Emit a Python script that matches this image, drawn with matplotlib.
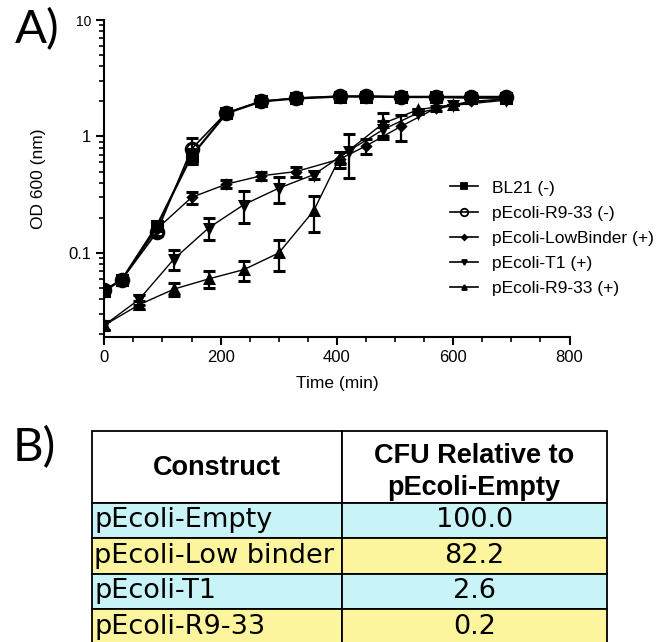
import numpy as np
import matplotlib
matplotlib.use("Agg")
import matplotlib.pyplot as plt
from matplotlib.lines import Line2D
from matplotlib.ticker import LogLocator, NullFormatter, FixedLocator, MultipleLocator

plt.rcParams["font.family"] = ["Liberation Sans", "DejaVu Sans"]

# Growth curves, OD600 vs time (min)
t_bl21 = [0, 30, 90, 150, 210, 270, 330, 405, 450, 510, 570, 630, 690]
od_bl21 = [0.047, 0.059, 0.17, 0.68, 1.58, 2.0, 2.12, 2.2, 2.2, 2.18, 2.18, 2.15, 2.15]
err_bl21 = [0, 0, 0.015, 0.1, 0.05, 0, 0, 0, 0, 0, 0, 0, 0]

t_r933m = [0, 30, 90, 150, 210, 270, 330, 405, 450, 510, 570, 630, 690]
od_r933m = [0.048, 0.059, 0.15, 0.78, 1.6, 2.0, 2.14, 2.22, 2.22, 2.2, 2.2, 2.2, 2.2]
err_r933m = [0, 0, 0.01, 0.2, 0.05, 0, 0, 0, 0, 0, 0, 0, 0]

t_low = [0, 30, 90, 150, 210, 270, 330, 405, 450, 510, 570, 630, 690]
od_low = [0.048, 0.059, 0.16, 0.30, 0.39, 0.46, 0.50, 0.64, 0.83, 1.22, 1.75, 2.0, 2.1]
err_low = [0, 0, 0, 0.035, 0.03, 0.04, 0.05, 0.1, 0.12, 0.3, 0.08, 0.05, 0]

t_t1 = [0, 60, 120, 180, 240, 300, 360, 420, 480, 540, 600, 690]
od_t1 = [0.024, 0.040, 0.089, 0.165, 0.26, 0.36, 0.47, 0.75, 1.15, 1.6, 1.85, 2.05]
err_t1 = [0.002, 0.004, 0.017, 0.035, 0.08, 0.09, 0.04, 0.31, 0.2, 0, 0, 0]

t_r933p = [0, 60, 120, 180, 240, 300, 360, 405, 480, 540, 600, 690]
od_r933p = [0.024, 0.036, 0.049, 0.060, 0.072, 0.10, 0.23, 0.66, 1.3, 1.7, 1.88, 2.1]
err_r933p = [0.002, 0.003, 0.006, 0.01, 0.014, 0.03, 0.08, 0.08, 0.3, 0, 0, 0]

# Table B
table_header = ["Construct", "CFU Relative to\npEcoli-Empty"]
constructs = ["pEcoli-Empty", "pEcoli-Low binder", "pEcoli-T1", "pEcoli-R9-33"]
cfu_rel = ["100.0", "82.2", "2.6", "0.2"]
row_colors = ["#c8f3f7", "#fcf59e", "#c8f3f7", "#fcf59e"]

fig = plt.figure(figsize=(6.72, 6.42), dpi=100)

# ---- panel A ----
ax = fig.add_axes([104.3 / 672, 1 - 337 / 642, 465.2 / 672, 317 / 642])

series = [
    (t_bl21, od_bl21, err_bl21, "s", "black", 7.5, "BL21 (-)", 1.6),
    (t_r933m, od_r933m, err_r933m, "o", "none", 9, "pEcoli-R9-33 (-)", 1.2),
    (t_low, od_low, err_low, "D", "black", 4.5, "pEcoli-LowBinder (+)", 1.0),
    (t_t1, od_t1, err_t1, "v", "black", 6, "pEcoli-T1 (+)", 1.0),
    (t_r933p, od_r933p, err_r933p, "^", "black", 6, "pEcoli-R9-33 (+)", 1.0),
]
handles = []
for t, y, e, mk, fc, ms, lab, lw in series:
    ax.errorbar(t, y, yerr=e, fmt="-", marker=mk, color="black", mfc=fc,
                mec="black", mew=2.2, ms=ms, lw=lw, elinewidth=1.6,
                capsize=4, capthick=1.6)
    handles.append(Line2D([], [], color="black", lw=1.2, marker=mk, mfc=fc,
                          mec="black", mew=1.3, ms=ms * 0.6, label=lab))

ax.set_yscale("log")
ax.set_xlim(0, 800)
ax.set_ylim(0.019, 10)
ax.xaxis.set_major_locator(MultipleLocator(200))
ax.xaxis.set_minor_locator(MultipleLocator(50))
ax.yaxis.set_major_locator(FixedLocator([0.1, 1, 10]))
ax.yaxis.set_minor_locator(LogLocator(base=10, subs=np.arange(2, 10)))
ax.yaxis.set_minor_formatter(NullFormatter())
ax.set_yticklabels(["0.1", "1", "10"])
for s in ["top", "right"]:
    ax.spines[s].set_visible(False)
for s in ["left", "bottom"]:
    ax.spines[s].set_linewidth(1.5)
ax.tick_params(which="major", length=6, width=1.5, labelsize=12, direction="out")
ax.tick_params(which="minor", length=3.5, width=1.2, direction="out")
ax.get_yticklabels()[-1].set_fontsize(10)
ax.set_xlabel("Time (min)", fontsize=12.5, labelpad=8)
ax.set_ylabel("OD 600 (nm)", fontsize=12.5, labelpad=16)

ax.legend(handles=handles, loc="center left", bbox_to_anchor=(0.743, 0.311),
          frameon=False, fontsize=12.5, handlelength=1.6, labelspacing=0.58,
          handletextpad=0.8, borderaxespad=0, borderpad=0)

fig.text(15 / 672, 1 - 8 / 642, "A)", fontsize=34, family="Lato", va="top", ha="left")

# ---- panel B ----
fig.text(13 / 672, 1 - 426 / 642, "B)", fontsize=34, family="Lato", va="top", ha="left")

tax = fig.add_axes([92.3 / 672, 1 - 644.7 / 642, (606.7 - 92.3) / 672, 214 / 642])
tax.axis("off")
cell_text = [["", ""]] + [[c, v] for c, v in zip(constructs, cfu_rel)]
cell_colors = [["white", "white"]] + [[c, c] for c in row_colors]
col_w = [(341.7 - 92.3) / (606.7 - 92.3), (606.7 - 341.7) / (606.7 - 92.3)]
tbl = tax.table(cellText=cell_text, cellColours=cell_colors, colWidths=col_w,
                bbox=[0, 0, 1, 1], cellLoc="center")
tbl.auto_set_font_size(False)
for (r, c), cell in tbl.get_celld().items():
    cell.set_linewidth(1.3)
    cell.set_edgecolor("black")
    cell.set_height(72 if r == 0 else 35.5)
    txt = cell.get_text()
    txt.set_fontsize(19.5)
    txt.set_family("DejaVu Sans")
    if c == 0:
        cell.PAD = 0.008
        txt.set_horizontalalignment("left")

# header text, drawn over the header row
hdr_frac = 72 / 214
tax.text(col_w[0] / 2, 1 - hdr_frac / 2 - 0.005, table_header[0], ha="center",
         va="center", fontsize=19.5, fontweight="bold")
tax.text(col_w[0] + col_w[1] / 2, 1 - hdr_frac / 2 - 0.025, table_header[1],
         ha="center", va="center", fontsize=19.5, fontweight="bold", linespacing=1.3)

fig.savefig("out.png", dpi=100)
